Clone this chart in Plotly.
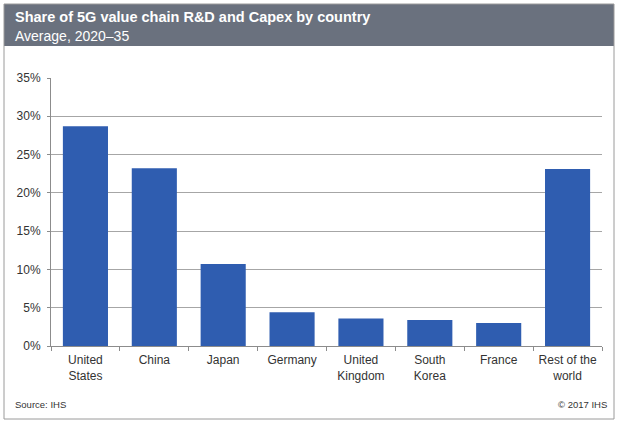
import plotly.graph_objects as go

categories = ["United<br>States", "China", "Japan", "Germany", "United<br>Kingdom",
              "South<br>Korea", "France", "Rest of the<br>world"]
shares = [28.7, 23.2, 10.7, 4.4, 3.6, 3.4, 3.0, 23.1]
y_ticks = [0, 5, 10, 15, 20, 25, 30, 35]
y_tick_labels = ["0%", "5%", "10%", "15%", "20%", "25%", "30%", "35%"]

W, H = 624, 425
PL, PR, PT, PB = 51, 602, 78, 346  # plot area pixel box
font_family = "Liberation Sans, Arial, sans-serif"


def px_x(x):
    return (x - PL) / (PR - PL)


def px_y(y):
    return (PB - y) / (PB - PT)


fig = go.Figure()
fig.add_trace(go.Bar(
    x=categories, y=shares,
    marker=dict(color="#2f5db0", line=dict(width=0)),
    hoverinfo="x+y",
))

fig.update_layout(
    width=W, height=H, autosize=False,
    margin=dict(l=PL, r=W - PR, t=PT, b=H - PB),
    paper_bgcolor="white", plot_bgcolor="white",
    bargap=0.345,
    showlegend=False,
    font=dict(family=font_family, size=12, color="#333333"),
    xaxis=dict(
        showline=True, linecolor="#8c8c8c", linewidth=1,
        ticks="outside", tickson="boundaries", ticklen=4, tickcolor="#8c8c8c",
        tickfont=dict(size=12, color="#333333"), tickangle=0,
        ticklabelstandoff=3,
        showgrid=False, fixedrange=True,
    ),
    yaxis=dict(
        range=[0, 35], tickvals=y_ticks, ticktext=y_tick_labels,
        showgrid=True, gridcolor="#a6a6a6", gridwidth=1,
        showline=True, linecolor="#8c8c8c", linewidth=1,
        ticks="outside", ticklen=3, tickcolor="#8c8c8c",
        tickfont=dict(size=12, color="#333333"),
        ticklabelstandoff=4,
        zeroline=False, fixedrange=True,
    ),
    shapes=[
        # header band
        dict(type="rect", xref="paper", yref="paper",
             x0=px_x(4), x1=px_x(614), y0=px_y(46), y1=px_y(4),
             fillcolor="#6a717e", line=dict(width=0), layer="below"),
        # outer frame
        dict(type="rect", xref="paper", yref="paper",
             x0=px_x(4), x1=px_x(614), y0=px_y(419), y1=px_y(4),
             line=dict(color="#9a9a9a", width=1), fillcolor="rgba(0,0,0,0)"),
    ],
    annotations=[
        dict(text="<b>Share of 5G value chain R&amp;D and Capex by country</b>",
             xref="paper", yref="paper", x=px_x(13), y=px_y(17),
             xanchor="left", yanchor="middle", showarrow=False,
             font=dict(size=14.5, color="white", family=font_family)),
        dict(text="Average, 2020–35",
             xref="paper", yref="paper", x=px_x(13), y=px_y(36),
             xanchor="left", yanchor="middle", showarrow=False,
             font=dict(size=14, color="white", family=font_family)),
        dict(text="Source: IHS",
             xref="paper", yref="paper", x=px_x(13), y=px_y(404),
             xanchor="left", yanchor="middle", showarrow=False,
             font=dict(size=9.5, color="#333333", family=font_family)),
        dict(text="© 2017 IHS",
             xref="paper", yref="paper", x=px_x(609), y=px_y(404),
             xanchor="right", yanchor="middle", showarrow=False,
             font=dict(size=9.5, color="#333333", family=font_family)),
    ],
)

fig.write_html(
    "out.html",
    config={"responsive": False, "displayModeBar": False},
    post_script="document.body.style.margin='0';document.body.style.overflow='hidden';",
)
